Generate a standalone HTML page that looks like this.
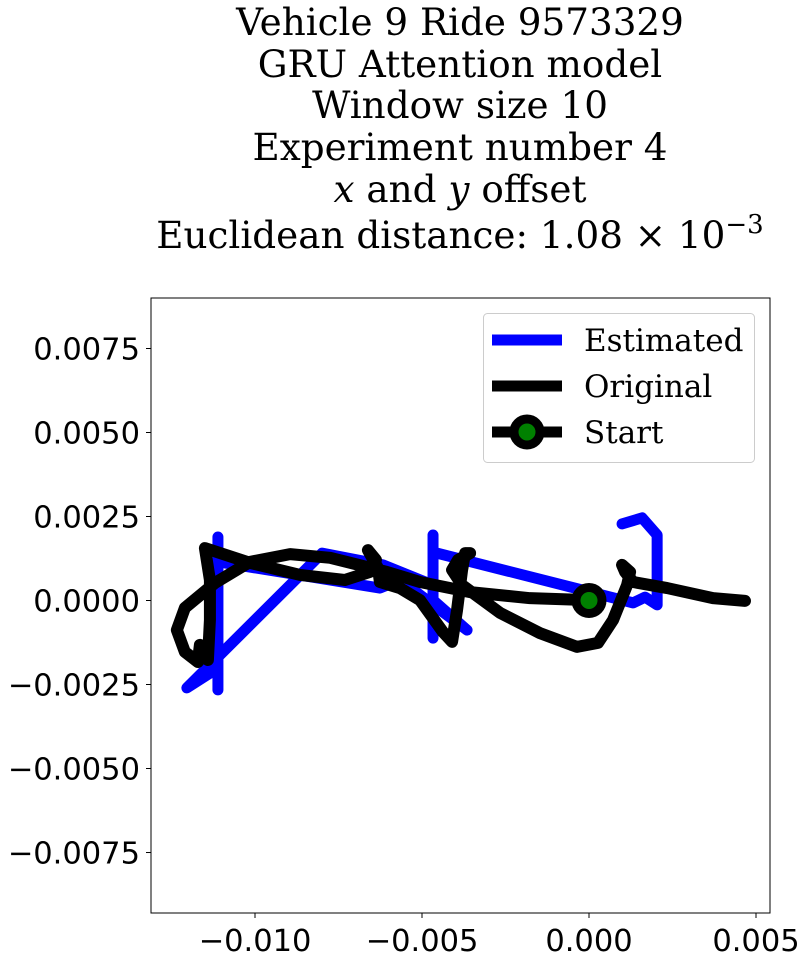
<!DOCTYPE html>
<html><head><meta charset="utf-8"><style>
html,body{margin:0;padding:0;background:#fff;}
svg{display:block;}
</style></head><body>
<svg id="chart" width="809" height="961" viewBox="0 0 809 961" xmlns="http://www.w3.org/2000/svg">
<g font-family="'DejaVu Serif','Liberation Serif',serif" font-size="37.3" text-anchor="middle" fill="#000">
<text x="460" y="35">Vehicle 9 Ride 9573329</text>
<text x="460" y="77">GRU Attention model</text>
<text x="460" y="118">Window size 10</text>
<text x="460" y="160">Experiment number 4</text>
<text x="460" y="202"><tspan font-style="italic">x</tspan> and <tspan font-style="italic">y</tspan> offset</text>
<text x="460" y="248">Euclidean distance: 1.08 × 10<tspan dy="-15" font-size="26">−3</tspan></text>
</g>
<g id="plot"></g>
</svg>
<script>
const xTicks = [-0.010, -0.005, 0.000, 0.005];
const xTickLabels = ["−0.010", "−0.005", "0.000", "0.005"];
const yTicks = [0.0075, 0.0050, 0.0025, 0.0000, -0.0025, -0.0050, -0.0075];
const yTickLabels = ["0.0075", "0.0050", "0.0025", "0.0000", "−0.0025", "−0.0050", "−0.0075"];
const estX = [0.99,1.59,2.04,2.04,1.68,1.32,-4.67,-4.67,-4.67,-4.67,-3.65,-5.66,-6.26,-11.11,-11.11,-11.11,-11.11,-12.04,-7.99,-6.17,-4.67];
const estY = [2.28,2.46,1.95,-0.13,0.10,-0.07,1.44,1.95,-1.12,0.01,-0.88,0.61,0.37,1.15,1.89,-2.66,-2.01,-2.60,1.41,1.06,0.46];
const origX = [0,-1.77,-3.56,-5.06,-6.05,-7.75,-8.95,-10.15,-11.20,-12.10,-12.34,-12.10,-11.71,-11.65,-11.41,-11.35,-11.35,-11.50,-10.15,-8.65,-7.31,-6.56,-6.38,-6.62,-6.32,-6.26,-5.66,-5.06,-4.37,-4.10,-3.95,-3.80,-3.71,-3.56,-3.92,-4.10,-3.80,-2.66,-1.47,-0.36,0.27,0.72,1.14,1.23,0.99,1.08,1.32,2.34,3.71,4.67];
const origY = [0.01,0.07,0.25,0.55,0.85,1.27,1.38,1.15,0.52,-0.22,-0.88,-1.53,-1.83,-1.32,-1.77,-0.58,0.61,1.56,1.12,0.76,0.61,0.85,1.21,1.50,0.97,0.55,0.37,0.01,-0.94,-1.23,-0.28,0.91,1.41,1.41,1.21,0.91,0.46,-0.37,-0.97,-1.38,-1.26,-0.58,0.46,0.85,1.06,0.85,0.55,0.37,0.07,-0.01];
const scaleE = 1e-3;
const startX = [0];
const startY = [0];

const NS = "http://www.w3.org/2000/svg";
const L = 151, R = 770, T = 298, B = 913;
const xMin = -0.013114, xMax = 0.005419, yMin = -0.0093, yMax = 0.009003;
function sx(v){ return L + (v - xMin) / (xMax - xMin) * (R - L); }
function sy(v){ return B - (v - yMin) / (yMax - yMin) * (B - T); }
const plot = document.getElementById('plot');
function mk(tag, attrs, parent){ const e = document.createElementNS(NS, tag); for (const k in attrs) e.setAttribute(k, attrs[k]); (parent||plot).appendChild(e); return e; }

const clip = mk('clipPath', {id:'clipA'});
mk('rect', {x:L, y:T, width:R-L, height:B-T}, clip);
const marks = mk('g', {'clip-path':'url(#clipA)'});



const ep = mk('polyline', {points: estX.map((v,i)=>sx(v*scaleE)+','+sy(estY[i]*scaleE)).join(' '), fill:'none', stroke:'#0000ff', 'stroke-width':11, 'stroke-linejoin':'round', 'stroke-linecap':'round'}, marks);


const op = mk('polyline', {points: origX.map((v,i)=>sx(v*scaleE)+','+sy(origY[i]*scaleE)).join(' '), fill:'none', stroke:'#000', 'stroke-width':12, 'stroke-linejoin':'round', 'stroke-linecap':'round'}, marks);


startX.forEach((v,i)=>{
  const c = mk('circle', {cx:sx(v), cy:sy(startY[i]), r:13, fill:'#008000', stroke:'#000', 'stroke-width':9}, marks);
  
  
});

const frame = mk('rect', {x:L, y:T, width:R-L, height:B-T, fill:'none', stroke:'#000', 'stroke-width':1});



xTicks.forEach((v,i)=>{
  const x = sx(v);
  const t = mk('line', {x1:x, x2:x, y1:B, y2:B+5, stroke:'#000', 'stroke-width':1});
  
  
  const lb = mk('text', {x:x, y:B+38, 'text-anchor':'middle', 'font-family':"'DejaVu Sans','Liberation Sans',sans-serif", 'font-size':30.5});
  lb.textContent = xTickLabels[i];
  
  
});
yTicks.forEach((v,i)=>{
  const y = sy(v);
  const t = mk('line', {x1:L-5, x2:L, y1:y, y2:y, stroke:'#000', 'stroke-width':1});
  
  
  const lb = mk('text', {x:L-11, y:y+11, 'text-anchor':'end', 'font-family':"'DejaVu Sans','Liberation Sans',sans-serif", 'font-size':30.5});
  lb.textContent = yTickLabels[i];
  
  
});

const leg = mk('g', {});


mk('rect', {x:483.5, y:313.5, width:271, height:149, rx:4, fill:'#fff', 'fill-opacity':0.8, stroke:'#ccc', 'stroke-width':1}, leg);
const legItems = [['Estimated','#0000ff',340,false],['Original','#000',386,false],['Start','#000',432,true]];
legItems.forEach(it=>{
  const g = mk('g', {}, leg);
  
  
  mk('line', {x1:492, x2:562, y1:it[2], y2:it[2], stroke:it[1], 'stroke-width':11}, g);
  if (it[3]) mk('circle', {cx:527, cy:it[2], r:13, fill:'#008000', stroke:'#000', 'stroke-width':9}, g);
  const tx = mk('text', {x:584, y:it[2]+11, 'font-family':"'DejaVu Serif','Liberation Serif',serif", 'font-size':31}, g);
  tx.textContent = it[0];
});
</script>
</body></html>
